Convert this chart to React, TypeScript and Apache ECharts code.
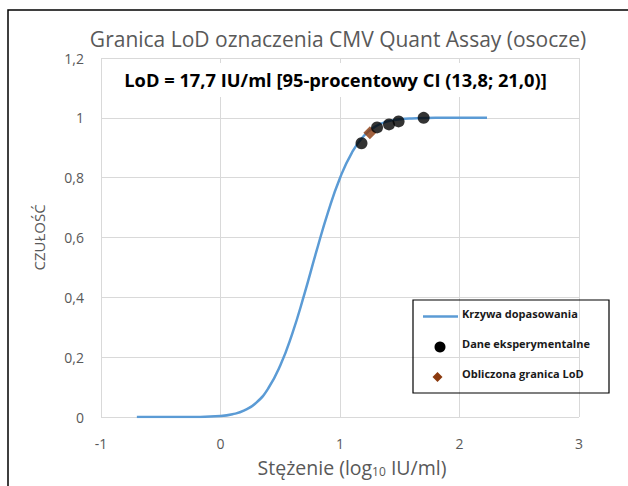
import React, { useEffect, useRef } from "react";
import * as echarts from "echarts";

// Fitted curve (log10 concentration vs. detection rate)
const curveX = [-0.7, -0.4, -0.2, 0, 0.1, 0.2, 0.3, 0.4, 0.5, 0.6, 0.7, 0.8, 0.9, 1.0, 1.1, 1.2, 1.3, 1.4, 1.5, 1.6, 1.8, 2.0, 2.23];
const curveY = [0, 0, 0.0003, 0.003, 0.009, 0.022, 0.048, 0.096, 0.172, 0.278, 0.408, 0.55, 0.685, 0.799, 0.884, 0.94, 0.972, 0.988, 0.995, 0.998, 1.0, 1.0, 1.0];

// Experimental data
const expX = [1.18, 1.31, 1.41, 1.49, 1.7];
const expY = [0.915, 0.968, 0.978, 0.988, 1.0];

// Calculated LoD
const lodX = [1.25];
const lodY = [0.95];

const xTicks = [-1, 0, 1, 2, 3];
const yTicks = [0, 0.2, 0.4, 0.6, 0.8, 1, 1.2];

const titleText = "Granica LoD oznaczenia CMV Quant Assay (osocze)";
const lodText = "LoD = 17,7 IU/ml [95-procentowy CI (13,8; 21,0)]";
const legendNames = ["Krzywa dopasowania", "Dane eksperymentalne", "Obliczona granica LoD"];

const FONT = "Open Sans";
const GRAY = "#595959";

export default function App() {
  const ref = useRef<HTMLDivElement>(null);
  useEffect(() => {
    if (!ref.current) return;
    const chart = echarts.init(ref.current, null, { renderer: "svg" });
    const fmt = (v: number) => String(Math.round(v * 10) / 10).replace(".", ",");
    chart.setOption({
      animation: false,
      backgroundColor: "#fff",
      title: {
        text: titleText,
        left: 333,
        top: 23,
        textAlign: "center",
        textStyle: { fontFamily: FONT, fontSize: 21, fontWeight: "normal", color: GRAY },
      },
      grid: { left: 101, right: 49, top: 58, bottom: 69, containLabel: false },
      xAxis: {
        type: "value",
        min: xTicks[0],
        max: xTicks[xTicks.length - 1],
        interval: 1,
        axisLine: { show: false },
        axisTick: { show: false },
        splitLine: { show: true, lineStyle: { color: "#d9d9d9", width: 1 } },
        axisLabel: { margin: 19, fontFamily: FONT, fontSize: 14, color: GRAY, formatter: fmt },
        name: "Stężenie (log{sub|10} IU/ml)",
        nameLocation: "middle",
        nameGap: 40,
        nameTextStyle: {
          fontFamily: FONT,
          fontSize: 19.5,
          color: GRAY,
          padding: [0, 0, 0, 24],
          rich: {
            sub: { fontFamily: FONT, fontSize: 12, color: GRAY, verticalAlign: "bottom", padding: [8, 0, 0, 0] },
          },
        },
      },
      yAxis: {
        type: "value",
        min: yTicks[0],
        max: yTicks[yTicks.length - 1],
        interval: 0.2,
        axisLine: { show: false },
        axisTick: { show: false },
        splitLine: { show: true, lineStyle: { color: "#d9d9d9", width: 1 } },
        axisLabel: { margin: 17, fontFamily: FONT, fontSize: 14, color: GRAY, formatter: fmt },
        name: "CZUŁOŚĆ",
        nameLocation: "middle",
        nameGap: 55,
        nameTextStyle: { fontFamily: FONT, fontSize: 15, color: GRAY },
      },
      series: [
        {
          name: legendNames[0],
          type: "line",
          data: curveX.map((x, i) => [x, curveY[i]]),
          smooth: true,
          showSymbol: false,
          symbol: "none",
          lineStyle: { color: "#5b9bd5", width: 2.5 },
          z: 2,
        },
        {
          name: legendNames[2],
          type: "scatter",
          data: lodX.map((x, i) => [x, lodY[i]]),
          symbol: "diamond",
          symbolSize: 13,
          itemStyle: { color: "#8b3a0e" },
          z: 3,
        },
        {
          name: legendNames[1],
          type: "scatter",
          data: expX.map((x, i) => [x, expY[i]]),
          symbol: "circle",
          symbolSize: 12,
          itemStyle: { color: "#000" },
          z: 4,
        },
      ],
      graphic: [
        {
          type: "rect",
          shape: { x: 8, y: 10, width: 700, height: 600 },
          style: { fill: "none", stroke: "#000", lineWidth: 1.5 },
          z: 20,
        },
        {
          type: "rect",
          shape: { x: 112, y: 63, width: 446, height: 34 },
          style: { fill: "#fff" },
          z: 10,
        },
        {
          type: "text",
          x: 335.5,
          y: 79.5,
          style: {
            text: lodText,
            fontFamily: FONT,
            fontSize: 18.3,
            fontWeight: "bold",
            fill: "#000",
            textAlign: "center",
            textVerticalAlign: "middle",
          },
          z: 11,
        },
        {
          type: "rect",
          shape: { x: 413, y: 300, width: 196, height: 93 },
          style: { fill: "none", stroke: "#000", lineWidth: 1.2 },
          z: 10,
        },
        {
          type: "line",
          shape: { x1: 423, y1: 316.5, x2: 458, y2: 316.5 },
          style: { stroke: "#5b9bd5", lineWidth: 2.5 },
          z: 11,
        },
        {
          type: "circle",
          shape: { cx: 440, cy: 347, r: 5.5 },
          style: { fill: "#000" },
          z: 11,
        },
        {
          type: "polygon",
          shape: { points: [[437.5, 372], [442.5, 377], [437.5, 382], [432.5, 377]] },
          style: { fill: "#8b3a0e" },
          z: 11,
        },
        {
          type: "text",
          x: 462,
          y: 313,
          style: { text: legendNames[0], fontFamily: FONT, fontSize: 11, fontWeight: "bold", fill: "#1a1a1a", textVerticalAlign: "middle" },
          z: 11,
        },
        {
          type: "text",
          x: 462,
          y: 343,
          style: { text: legendNames[1], fontFamily: FONT, fontSize: 11, fontWeight: "bold", fill: "#1a1a1a", textVerticalAlign: "middle" },
          z: 11,
        },
        {
          type: "text",
          x: 462,
          y: 373,
          style: { text: legendNames[2], fontFamily: FONT, fontSize: 11, fontWeight: "bold", fill: "#1a1a1a", textVerticalAlign: "middle" },
          z: 11,
        },
      ],
    });
    return () => chart.dispose();
  }, []);
  return (
    <div
      ref={ref}
      style={{ position: "fixed", left: 0, top: 0, width: 628, height: 486 }}
    />
  );
}
